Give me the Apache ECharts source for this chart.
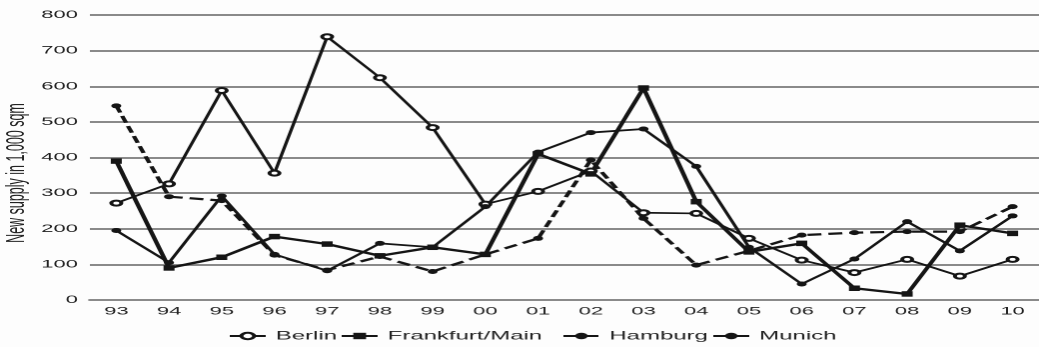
<!DOCTYPE html>
<html>
<head>
<meta charset="utf-8">
<script src="https://cdn.jsdelivr.net/npm/echarts@6/dist/echarts.min.js"></script>
<style>
  html, body { margin: 0; padding: 0; background: #fdfdfd; overflow: hidden; }
  #wrap { width: 1039px; height: 347px; overflow: hidden; }
  /* the chart is drawn narrow and widened horizontally */
  #chart { width: 520px; height: 347px; transform: scaleX(1.998); transform-origin: 0 0; }
</style>
</head>
<body>
<div id="wrap"><div id="chart"></div></div>
<script>
// Years (two-digit labels)
const years = ['93','94','95','96','97','98','99','00','01','02','03','04','05','06','07','08','09','10'];

// New office supply, 1,000 sqm
const berlin    = [272, 326, 588, 356, 739, 624, 484, 269, 305, 362, 245, 243, 173, 112, 77, 114, 67, 114];
const frankfurt = [390, 90, 120, 178, 157, 124, 148, 128, 410, 354, 595, 276, 135, 159, 33, 17, 210, 187];
const hamburg   = [545, 290, 279, 126, 84, 122, 80, 128, 173, 393, 229, 98, 138, 182, 189, 192, 192, 262];
const munich    = [195, 105, 292, 128, 82, 159, 148, 262, 415, 470, 480, 375, 148, 45, 115, 220, 138, 236];

const yTicks = { min: 0, max: 800, interval: 100 };

const ink = '#151515';
const gridGrey = '#8a8a8a';
const fontFamily = '"Liberation Sans", Arial, Helvetica, sans-serif';

const chart = echarts.init(document.getElementById('chart'), null, { renderer: 'canvas', devicePixelRatio: 2 });

function legendAt(name, left) {
  return {
    data: [name],
    left: left,
    top: 330,
    padding: 0,
    itemWidth: 18,
    itemHeight: 8,
    textStyle: { fontSize: 12, color: '#222', fontFamily: fontFamily }
  };
}

chart.setOption({
  backgroundColor: '#fdfdfd',
  animation: false,
  grid: { left: 45, top: 15, width: 481.75, height: 285 },
  legend: [
    legendAt('Berlin', 114),
    legendAt('Frankfurt/Main', 170),
    legendAt('Hamburg', 281),
    legendAt('Munich', 356)
  ],
  graphic: [{
    type: 'text',
    x: 8.5,
    y: 173,
    rotation: Math.PI / 2,
    style: {
      text: 'New supply in 1,000 sqm',
      fill: '#222',
      fontSize: 12.5,
      fontFamily: fontFamily,
      align: 'center',
      verticalAlign: 'middle'
    }
  }],
  xAxis: {
    type: 'category',
    data: years,
    boundaryGap: true,
    axisLine: { show: true, lineStyle: { color: gridGrey, width: 2 } },
    axisTick: { show: false },
    axisLabel: { color: '#222', fontSize: 11, fontFamily: fontFamily, margin: 6, interval: 0 }
  },
  yAxis: {
    type: 'value',
    min: yTicks.min,
    max: yTicks.max,
    interval: yTicks.interval,
    axisLine: { show: false },
    axisTick: { show: false },
    axisLabel: { color: '#222', fontSize: 11, fontFamily: fontFamily, margin: 6 },
    splitLine: { show: true, lineStyle: { color: gridGrey, width: 2 } }
  },
  series: [
    {
      name: 'Berlin', type: 'line', data: berlin,
      symbol: 'emptyCircle', symbolSize: 5,
      itemStyle: { color: ink, borderWidth: 1.1 },
      lineStyle: { color: ink, width: 1.7, type: 'solid' }
    },
    {
      name: 'Frankfurt/Main', type: 'line', data: frankfurt,
      symbol: 'rect', symbolSize: 5.5,
      itemStyle: { color: ink },
      lineStyle: { color: ink, width: 2.3, type: 'solid' }
    },
    {
      name: 'Hamburg', type: 'line', data: hamburg,
      symbol: 'circle', symbolSize: 5,
      itemStyle: { color: ink },
      lineStyle: { color: ink, width: 2.2, type: [7, 3.5] }
    },
    {
      name: 'Munich', type: 'line', data: munich,
      symbol: 'circle', symbolSize: 5,
      itemStyle: { color: ink },
      lineStyle: { color: ink, width: 1.8, type: 'solid' }
    }
  ]
});
</script>
</body>
</html>
